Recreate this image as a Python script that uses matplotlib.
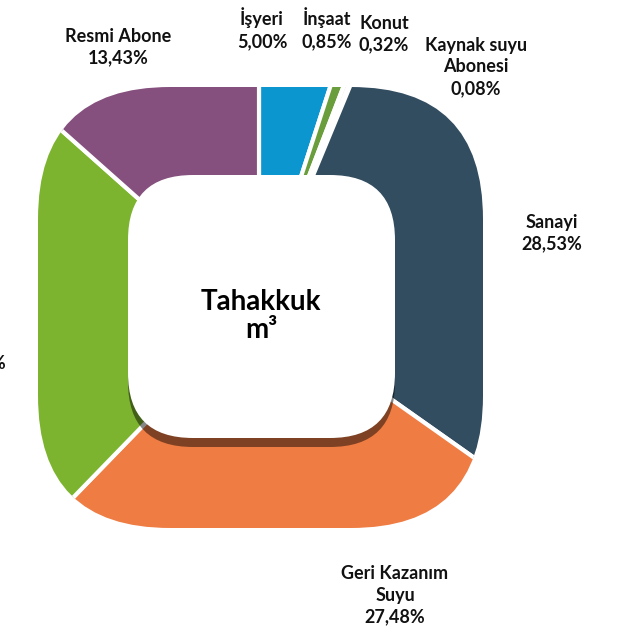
import matplotlib
matplotlib.use("Agg")
import matplotlib.pyplot as plt
from matplotlib.patches import FancyBboxPatch, BoxStyle

plt.rcParams['font.family'] = ['Lato', 'DejaVu Sans']

categories = ["İşyeri", "İnşaat", "Konut", "Kaynak suyu\nAbonesi", "Sanayi",
              "Geri Kazanım\nSuyu", "Mesken", "Resmi Abone"]
values = [5.00, 0.85, 0.32, 0.08, 28.53, 27.48, 24.31, 13.43]
value_labels = ["5,00%", "0,85%", "0,32%", "0,08%", "28,53%", "27,48%", "24,31%", "13,43%"]
colors = ["#0B96CF", "#6A9E3C", "#EDEDED", "#F4F4F4", "#324C60",
          "#EF7C43", "#7DB42F", "#854F7E"]

W, H = 639, 626
fig = plt.figure(figsize=(W / 100, H / 100), dpi=100)
ax = fig.add_axes([0, 0, 1, 1])

wedges, _ = ax.pie(values, startangle=90, counterclock=False, center=(259, H - 306),
                   radius=330, colors=colors, frame=True,
                   wedgeprops=dict(edgecolor="white", linewidth=3))
ax.set_xlim(0, W)
ax.set_ylim(0, H)
ax.set_aspect("equal")

outer = FancyBboxPatch((38, H - 528), 445, 441,
                       boxstyle=BoxStyle.Round(pad=0, rounding_size=132),
                       facecolor="none", edgecolor="none")
ax.add_patch(outer)
for w in wedges:
    w.set_clip_on(True)
    w.set_clip_path(outer)

# shadow of the hole
shadow = FancyBboxPatch((128, H - 438 - 9), 267, 263,
                        boxstyle=BoxStyle.Round(pad=0, rounding_size=65),
                        facecolor="black", edgecolor="none", alpha=0.47, zorder=3)
ax.add_patch(shadow)
hole = FancyBboxPatch((128, H - 438), 267, 263,
                      boxstyle=BoxStyle.Round(pad=0, rounding_size=65),
                      facecolor="white", edgecolor="none", zorder=4)
ax.add_patch(hole)

ax.text(261, H - 316, "Tahakkuk\nm³", ha="center", va="center", fontsize=20,
        fontweight="bold", color="black", zorder=5, linespacing=1.12)

label_pos = [(262, 29), (327, 29), (384, 34), (476, 67), (552, 233),
             (395, 595), (None, None), (118, 47)]
for cat, vl, (x, y) in zip(categories, value_labels, label_pos):
    if x is None:
        continue
    ax.text(x, H - y, f"{cat}\n{vl}", ha="center", va="center", fontsize=13,
            fontweight="bold", color="#111111", linespacing=1.35, zorder=6)

# left label (mostly outside the picture)
ax.text(6, H - 363, value_labels[6], ha="right", va="center",
        fontsize=13, fontweight="bold", color="#111111", zorder=6)
ax.text(-3, H - 340, categories[6], ha="right", va="center",
        fontsize=13, fontweight="bold", color="#111111", zorder=6)

ax.axis("off")
fig.savefig("out.png", dpi=100)
